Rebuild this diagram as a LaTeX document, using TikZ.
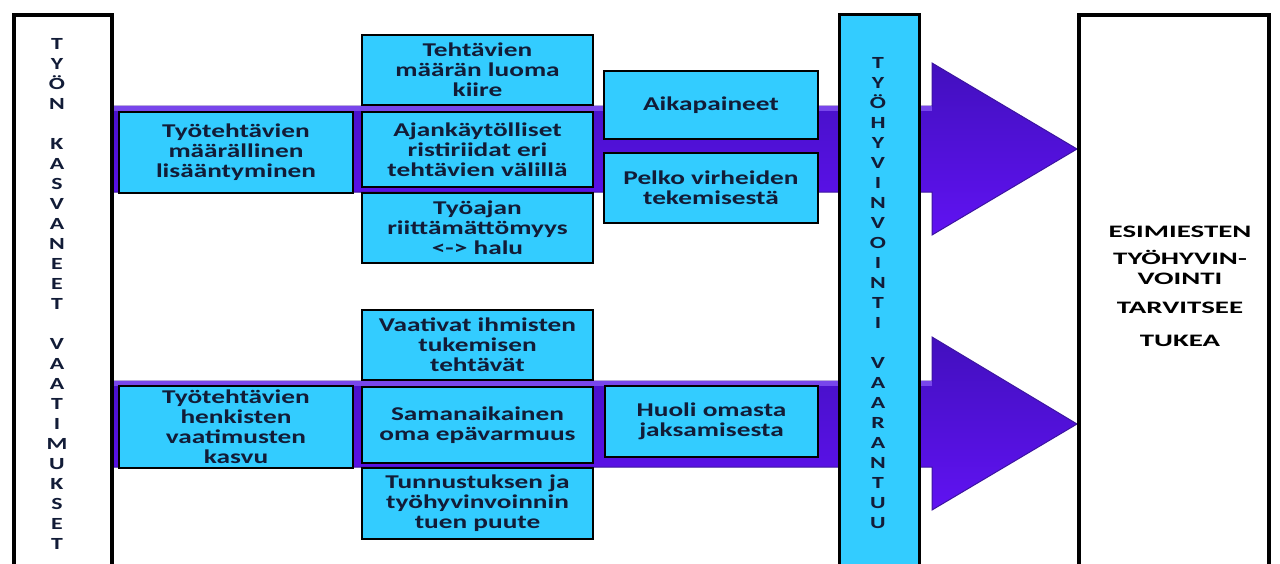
\documentclass[tikz,border=0pt]{standalone}
\usepackage{fontspec}
\newfontfamily\bxfont[FakeStretch=1.4]{Carlito}
\newfontfamily\rfont[FakeStretch=1.65]{Carlito}
\definecolor{cyanbox}{RGB}{51,204,255}
\definecolor{arrowtop}{RGB}{66,16,190}
\definecolor{arrowbot}{RGB}{96,18,242}
\definecolor{arrowlight}{RGB}{120,70,235}
\definecolor{arrowedge}{RGB}{60,20,160}
\definecolor{txt}{RGB}{18,28,55}
\begin{document}
\begin{tikzpicture}[x=1pt,y=-1pt,
  box/.style={draw=black, line width=2.5pt, fill=cyanbox, inner sep=0pt,
    align=center, text=txt, font=\bxfont\bfseries\fontsize{19.5}{20}\selectfont},
  bigbox/.style={draw=black, line width=3.5pt, fill=white, inner sep=0pt, anchor=north west},
  barbox/.style={draw=black, line width=3pt, fill=cyanbox, inner sep=0pt, anchor=north west},
  vtext/.style={align=center, inner sep=0pt, text=txt, font=\bxfont\bfseries\fontsize{17}{20}\selectfont},
  rtext/.style={align=center, inner sep=0pt, text=black, font=\rfont\bfseries\fontsize{17.5}{20}\selectfont},
  bigarrow/.style={top color=arrowtop, bottom color=arrowbot, draw=arrowedge, line width=1pt}
]
\useasboundingbox (0,0) rectangle (1280,563);
\clip (0,0) rectangle (1280,563);
\fill[white] (0,0) rectangle (1280,563);

% arrows
\coordinate (a1t) at (1077,149);
\coordinate (a2t) at (1077,424);
\path[bigarrow] (112,106) -- (932,106) -- (932,63) -- (a1t) -- (932,235) -- (932,192) -- (112,192) -- cycle;
\fill[arrowlight] (112,106) rectangle (932,111);
\path[bigarrow] (112,381) -- (932,381) -- (932,337) -- (a2t) -- (932,510) -- (932,467) -- (112,467) -- cycle;
\fill[arrowlight] (112,381) rectangle (932,386);

% big frames
\node[bigbox, minimum width=98, minimum height=600] (left) at (12,13) {};
\node[bigbox, minimum width=190, minimum height=600] (right) at (1077,13) {};
\node[barbox, minimum width=80, minimum height=600] (bar) at (838,13) {};

% left vertical text
\node[vtext] (lefttext) at (57,294) {T\\Y\\Ö\\N\\~\\K\\A\\S\\V\\A\\N\\E\\E\\T\\~\\V\\A\\A\\T\\I\\M\\U\\K\\S\\E\\T};

% bar vertical text
\node[vtext] (bartext) at (878,293) {T\\Y\\Ö\\H\\Y\\V\\I\\N\\V\\O\\I\\N\\T\\I\\~\\V\\A\\A\\R\\A\\N\\T\\U\\U};

% right text
\node[rtext] (r1) at (1180,232) {ESIMIESTEN};
\node[rtext] (r2) at (1180,267) {TYÖHYVIN-\\VOINTI};
\node[rtext] (r3) at (1180,308) {TARVITSEE};
\node[rtext] (r4) at (1180,341) {TUKEA};

% upper boxes
\node[box, minimum width=234, minimum height=81] (b1) at (236,152.5) {Työtehtävien\\määrällinen\\lisääntyminen};
\node[box, minimum width=231, minimum height=70] (b2) at (477.5,70) {Tehtävien\\määrän luoma\\kiire};
\node[box, minimum width=231, minimum height=75] (b3) at (477.5,149.5) {Ajankäytölliset\\ristiriidat eri\\tehtävien välillä};
\node[box, minimum width=231, minimum height=70] (b4) at (477.5,228) {Työajan\\riittämättömyys\\<-> halu};
\node[box, minimum width=214, minimum height=68] (b5) at (711,105) {Aikapaineet};
\node[box, minimum width=214, minimum height=70] (b6) at (711,188) {Pelko virheiden\\tekemisestä};

% lower boxes
\node[box, minimum width=234, minimum height=82] (c1) at (236,427) {Työtehtävien\\henkisten\\vaatimusten\\kasvu};
\node[box, minimum width=231, minimum height=70] (c2) at (477.5,345) {Vaativat ihmisten\\tukemisen\\tehtävät};
\node[box, minimum width=231, minimum height=76] (c3) at (477.5,425) {Samanaikainen\\oma epävarmuus};
\node[box, minimum width=231, minimum height=71] (c4) at (477.5,503.5) {Tunnustuksen ja\\työhyvinvoinnin\\tuen puute};
\node[box, minimum width=213, minimum height=71] (c5) at (711.5,421.5) {Huoli omasta\\jaksamisesta};
\end{tikzpicture}
\end{document}
